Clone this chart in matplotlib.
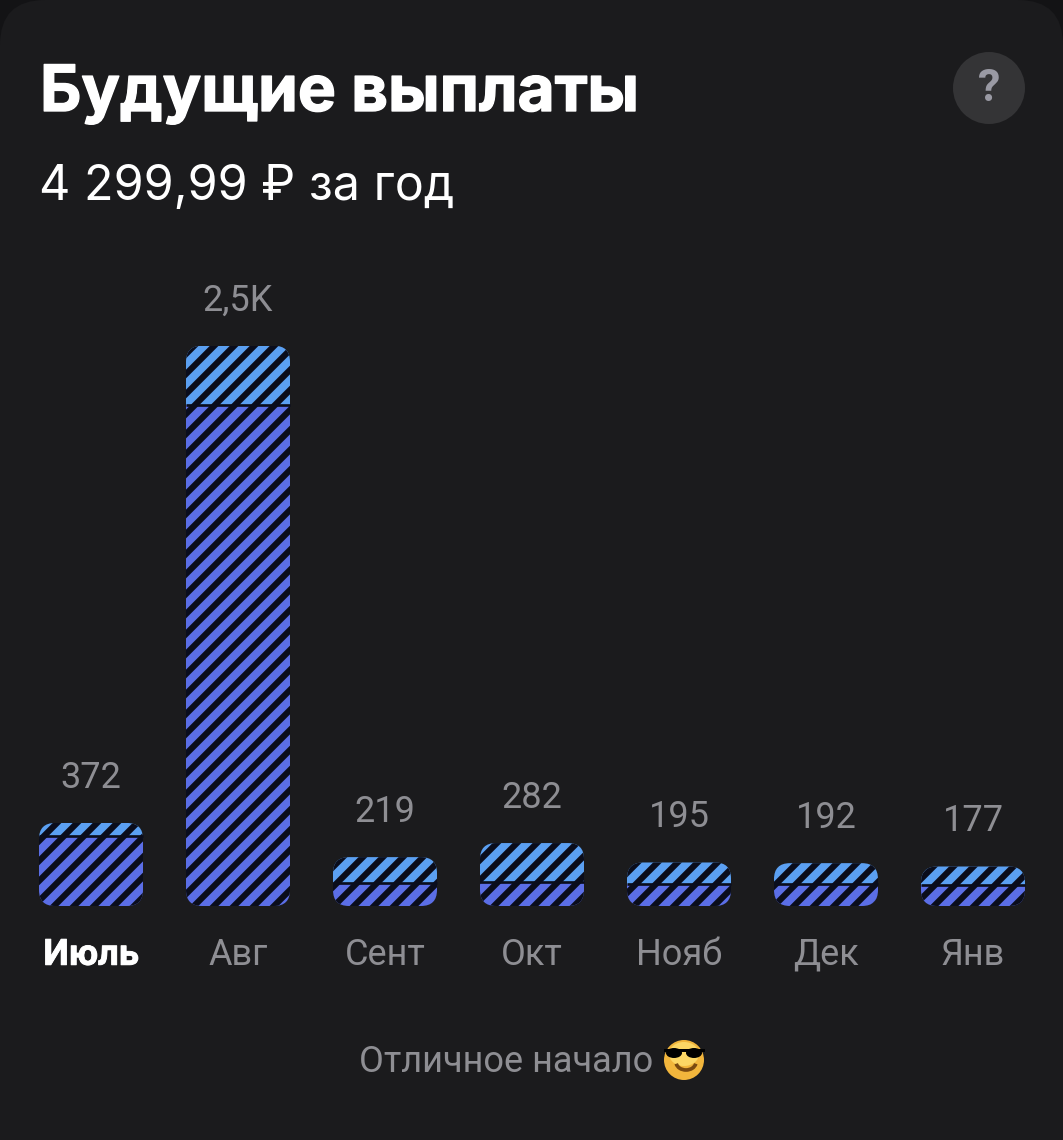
import matplotlib
matplotlib.use("Agg")
import matplotlib.pyplot as plt
import matplotlib.patheffects as pe
from matplotlib.patches import FancyBboxPatch, Circle, Ellipse, Arc, Rectangle

months = ["Июль", "Авг", "Сент", "Окт", "Нояб", "Дек", "Янв"]
lower = [314, 2245, 103, 107, 98, 98, 94]
upper = [58, 265, 116, 175, 97, 94, 83]
labels = ["372", "2,5K", "219", "282", "195", "192", "177"]

W, H, DPI = 1063, 1140, 120
BG = "#1b1b1d"
GREY = "#8e8e93"
plt.rcParams["font.family"] = ["Roboto", "DejaVu Sans"]
plt.rcParams["hatch.linewidth"] = 3.7

fig = plt.figure(figsize=(W / DPI, H / DPI), dpi=DPI, facecolor="#131315")

# card background with rounded top corners
bg = fig.add_axes([0, 0, 1, 1])
bg.set_xlim(0, W)
bg.set_ylim(H, 0)
bg.axis("off")
bg.add_patch(FancyBboxPatch((45, 45), W - 90, H + 200, boxstyle="round,pad=45,rounding_size=45",
                            facecolor=BG, edgecolor="none"))

base_px = 906
ax = fig.add_axes([0, (H - base_px) / H, 1, base_px / H])
ax.set_facecolor("none")
step_px = 147
ax.set_xlim(-91 / step_px, (W - 91) / step_px)
per_px = 4.48
ax.set_ylim(0, base_px * per_px)
for s in ax.spines.values():
    s.set_visible(False)
ax.set_yticks([])
x = list(range(len(months)))
ax.set_xticks(x, months)
ax.tick_params(axis="x", length=0, pad=18.5, labelsize=21.7, labelcolor=GREY)
ax.get_xticklabels()[0].set_color("white")
ax.get_xticklabels()[0].set_fontweight("bold")
ax.get_xticklabels()[0].set_path_effects([pe.withStroke(linewidth=0.5, foreground="white")])

bar_w = 104 / step_px
DARK = "#0a0d1c"
b1 = ax.bar(x, lower, width=bar_w, color="#5b6ee6", edgecolor=DARK, hatch="//", linewidth=0)
b2 = ax.bar(x, upper, width=bar_w, bottom=lower, color="#5ba0f2", edgecolor=DARK, hatch="//", linewidth=0)
ax.hlines(lower, [i - bar_w / 2 for i in x], [i + bar_w / 2 for i in x], color=DARK, linewidth=1.6, zorder=3)

rad_px = 16
for i, (lo, up, lab) in enumerate(zip(lower, upper, labels)):
    total = lo + up
    r = rad_px
    box = FancyBboxPatch((i - bar_w / 2 + r / step_px, r * per_px),
                         bar_w - 2 * r / step_px, total - 2 * r * per_px,
                         boxstyle=f"round,pad={r / step_px},rounding_size={r / step_px}",
                         mutation_aspect=per_px * step_px,
                         transform=ax.transData, facecolor="none", edgecolor="none")
    ax.add_patch(box)
    b1[i].set_clip_path(box)
    b2[i].set_clip_path(box)
    ax.annotate(lab, (i, total), xytext=(0, 27 / DPI * 72), textcoords="offset points",
                ha="center", va="bottom", color=GREY, fontsize=21.7, annotation_clip=False)

fig.text(40 / W, 1 - 111 / H, "Будущие выплаты", color="white", fontsize=38.4, fontweight="bold",
         family=["Inter", "DejaVu Sans"], ha="left", va="baseline",
         path_effects=[pe.withStroke(linewidth=0.8, foreground="white")])
fig.text(39 / W, 1 - 200 / H, "4 299,99 ₽ за год", color="white", fontsize=29.1,
         family=["Inter", "Roboto", "DejaVu Sans"], ha="left", va="baseline")
fig.text(506 / W, 1 - 1072 / H, "Отличное начало", color=GREY, fontsize=21.7, ha="center", va="baseline")

# overlay in pixel coordinates for the help button and emoji
ov = fig.add_axes([0, 0, 1, 1])
ov.set_xlim(0, W)
ov.set_ylim(H, 0)
ov.axis("off")
ov.set_facecolor("none")
ov.add_patch(Circle((989, 88), 36, color="#343436", lw=0))
ov.text(989, 101, "?", color="#9a9aa4", fontsize=27, fontweight="bold", ha="center", va="baseline")
ov.add_patch(Circle((684, 1060), 20, color="#f2b63c", lw=0))
ov.add_patch(Ellipse((684, 1054), 30, 24, color="#fcd765", lw=0))
ov.add_patch(Rectangle((664, 1049), 41, 3, color="black", lw=0))
ov.add_patch(Ellipse((674, 1053), 16, 10, color="black", lw=0))
ov.add_patch(Ellipse((694, 1053), 16, 10, color="black", lw=0))
ov.add_patch(Arc((686, 1062), 20, 16, theta1=10, theta2=170, color="#7a4a10", lw=2.2))
fig.savefig("out.png", dpi=DPI, facecolor=fig.get_facecolor())
